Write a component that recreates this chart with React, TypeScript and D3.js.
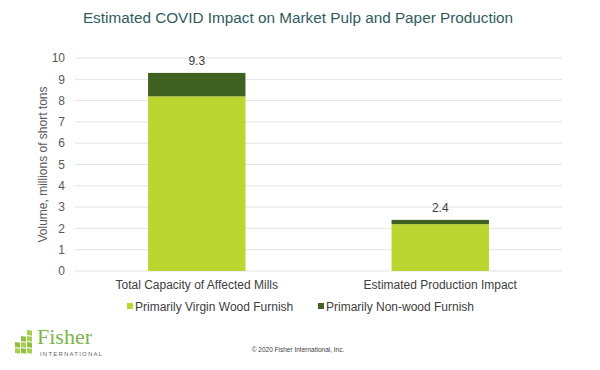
import React from 'react';
import * as d3 from 'd3';

const categories = ['Total Capacity of Affected Mills', 'Estimated Production Impact'];
const virginWood = [8.2, 2.2];
const nonWood = [1.1, 0.2];
const totals = ['9.3', '2.4'];
const yTicks = [0, 1, 2, 3, 4, 5, 6, 7, 8, 9, 10];
const seriesNames = ['Primarily Virgin Wood Furnish', 'Primarily Non-wood Furnish'];
const seriesColors = ['#bcd631', '#3f6122'];

const W = 600, H = 370;
const margin = { top: 58, right: 38, bottom: 99, left: 75 };
const font = 'Liberation Sans, Arial, sans-serif';

export default function App() {
  const width = W - margin.left - margin.right;
  const height = H - margin.top - margin.bottom;

  const x = d3.scaleBand().domain(categories).range([0, width]).paddingInner(0.6).paddingOuter(0.3);
  const y = d3.scaleLinear().domain([0, 10]).range([height, 0]);

  const rows = categories.map((c, i) => ({ cat: c, virgin: virginWood[i], non: nonWood[i] }));
  const stacked = d3.stack<any>().keys(['virgin', 'non'])(rows);

  return (
    <svg width={W} height={H} style={{ position: 'absolute', left: 0, top: 0, background: '#fff' }}>
      <text x={298} y={23} textAnchor="middle" fontFamily={font} fontSize={15.3} fill="#2f5c5e">
        Estimated COVID Impact on Market Pulp and Paper Production
      </text>
      <g transform={`translate(${margin.left},${margin.top})`}>
        {yTicks.map(t => (
          <g key={t}>
            <line x1={0} x2={width} y1={y(t)} y2={y(t)} stroke="#e3e3e3" strokeWidth={1} />
            <text x={-10} y={y(t)} dy="0.35em" textAnchor="end" fontFamily={font} fontSize={12} fill="#595959">{t}</text>
          </g>
        ))}
        {stacked.map((s, si) => (
          <g key={si} fill={seriesColors[si]}>
            {s.map((d, i) => (
              <rect key={i} x={x(categories[i])} width={x.bandwidth()} y={y(d[1])} height={y(d[0]) - y(d[1])} />
            ))}
          </g>
        ))}
        {categories.map((c, i) => (
          <g key={c}>
            <text x={(x(c) as number) + x.bandwidth() / 2} y={y(virginWood[i] + nonWood[i]) - 8} textAnchor="middle" fontFamily={font} fontSize={12} fill="#404040">{totals[i]}</text>
            <text x={(x(c) as number) + x.bandwidth() / 2} y={height + 18} textAnchor="middle" fontFamily={font} fontSize={12} fill="#404040">{c}</text>
          </g>
        ))}
        <text transform={`translate(${-28},${height / 2}) rotate(-90)`} textAnchor="middle" fontFamily={font} fontSize={12} fill="#595959">
          Volume, millions of short tons
        </text>
      </g>
      {seriesNames.map((n, i) => {
        const lx = [127, 318][i];
        return (
          <g key={n}>
            <rect x={lx} y={303} width={6} height={6} fill={seriesColors[i]} />
            <text x={lx + 8} y={311} fontFamily={font} fontSize={12} fill="#404040">{n}</text>
          </g>
        );
      })}
      <g>
        {[[27, 330], [21, 336], [27, 336], [15, 342], [21, 342], [27, 342], [15, 348], [21, 348], [27, 348]].map(([sx, sy], i) => (
          <rect key={i} x={sx} y={sy} width={5} height={5} fill={i % 2 ? '#8fbf3f' : '#a6cf52'} transform={`skewY(8)`} style={{ transformOrigin: `${sx}px ${sy}px` }} />
        ))}
        <text x={37} y={344} fontFamily="Liberation Serif, Times New Roman, serif" fontSize={22} fill="#7ab648">Fisher</text>
        <text x={40} y={356} fontFamily={font} fontSize={6} letterSpacing={1.2} fill="#666">INTERNATIONAL</text>
      </g>
      <text x={298} y={352} textAnchor="middle" fontFamily={font} fontSize={6.5} fill="#404040">© 2020 Fisher International, Inc.</text>
    </svg>
  );
}
